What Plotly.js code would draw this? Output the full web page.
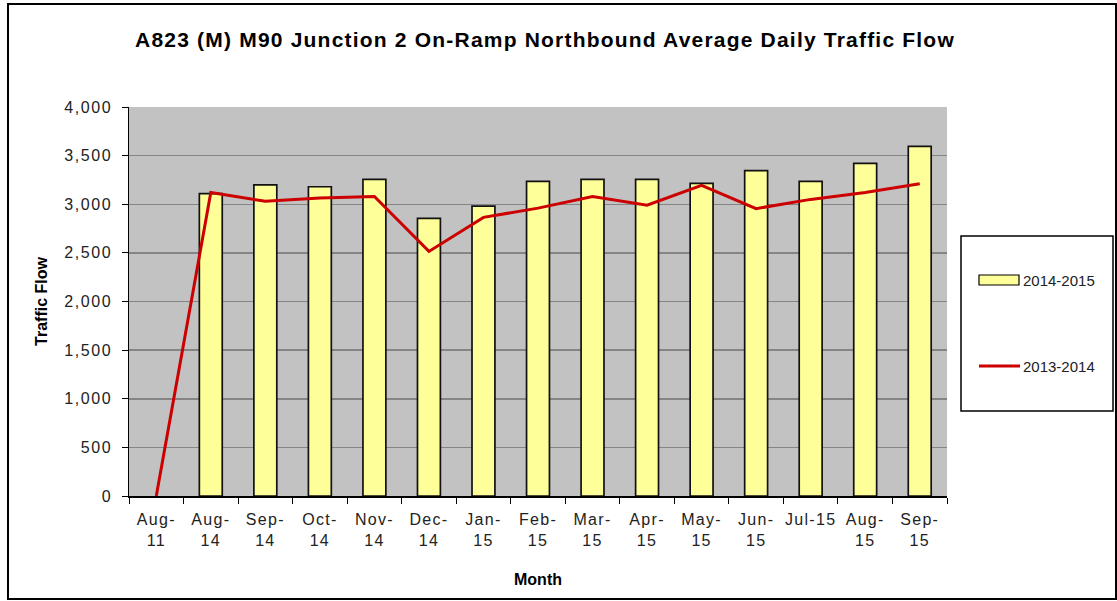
<!DOCTYPE html>
<html>
<head>
<meta charset="utf-8">
<script src="https://cdn.plot.ly/plotly-3.0.1.min.js"></script>
<style>
html,body{margin:0;padding:0;background:#fff;}
#wrap{position:relative;width:1117px;height:601px;}
#chart{width:1117px;height:601px;}
#frame{position:absolute;left:7px;top:3px;width:1106px;height:593px;border:2px solid #000;pointer-events:none;}
#chart .gtitle{letter-spacing:1.2px;}
#chart .xtick text{letter-spacing:1.3px;}
#chart .ytick text{letter-spacing:1.6px;}
</style>
</head>
<body>
<div id="wrap"><div id="chart"></div><div id="frame"></div></div>
<script>
const months = ["Aug-<br>11","Aug-<br>14","Sep-<br>14","Oct-<br>14","Nov-<br>14","Dec-<br>14","Jan-<br>15","Feb-<br>15","Mar-<br>15","Apr-<br>15","May-<br>15","Jun-<br>15","Jul-15","Aug-<br>15","Sep-<br>15"];
const flow2014_2015 = [null,3110,3200,3180,3255,2855,2980,3235,3255,3255,3215,3345,3235,3420,3595];
const flow2013_2014 = [0,3120,3030,3065,3080,2515,2865,2960,3080,2990,3195,2955,3050,3120,3210];
const seriesNames = ["2014-2015","2013-2014"];
const yTicks = [0,500,1000,1500,2000,2500,3000,3500,4000];

const L = 129, R = 947, T = 107, B = 496, W = 1117, H = 601;
const px = x => (x - L) / (R - L);
const py = y => (B - y) / (B - T);

const traces = [
  {type:"bar", x:months, y:flow2014_2015, name:seriesNames[0],
   marker:{color:"#ffff99", line:{color:"#111", width:1.7}}, showlegend:false},
  {type:"scatter", mode:"lines", x:months, y:flow2013_2014, name:seriesNames[1],
   line:{color:"#cc0000", width:3}, showlegend:false}
];

const layout = {
  width:W, height:H,
  margin:{l:L, r:W-R, t:T, b:H-B},
  paper_bgcolor:"#fff", plot_bgcolor:"#c2c2c2",
  bargap:0.58,
  font:{family:"Liberation Sans, Arial, sans-serif", color:"#222", size:15},
  title:{text:"<b>A823 (M) M90 Junction 2 On-Ramp Northbound Average Daily Traffic Flow</b>",
    font:{size:21, color:"#000", family:"Liberation Sans, Arial, sans-serif"},
    x:545/W, xanchor:"center", xref:"container", y:1-40/H, yanchor:"middle", yref:"container"},
  xaxis:{type:"category", tickson:"boundaries", ticks:"outside", ticklen:6, tickcolor:"#000",
    showline:true, linecolor:"#000", linewidth:1.5, showgrid:false, ticklabelstandoff:8,
    tickfont:{size:16, color:"#222"}, automargin:false,
    title:{text:"<b>Month</b>", font:{size:16, color:"#000"}, standoff:26}},
  yaxis:{range:[0,4000], tickvals:yTicks, tickformat:",", ticks:"outside", ticklen:6, tickcolor:"#000",
    showline:true, linecolor:"#000", linewidth:1.5, gridcolor:"#858585", gridwidth:1.5,
    zeroline:false, tickfont:{size:16, color:"#222"}, ticklabelstandoff:6, automargin:false,
    title:{text:"<b>Traffic Flow</b>", font:{size:16, color:"#000"}, standoff:20}},
  shapes:[
    {type:"rect", xref:"paper", yref:"paper", x0:px(961), x1:px(1113), y0:py(411), y1:py(236),
     line:{color:"#000", width:1.5}, fillcolor:"rgba(0,0,0,0)"},
    {type:"rect", xref:"paper", yref:"paper", x0:px(979), x1:px(1019), y0:py(285), y1:py(275),
     line:{color:"#000", width:1.2}, fillcolor:"#ffff99"},
    {type:"line", xref:"paper", yref:"paper", x0:px(979), x1:px(1020), y0:py(366), y1:py(366),
     line:{color:"#cc0000", width:3}}
  ],
  annotations:[
    {xref:"paper", yref:"paper", x:px(1021), y:py(280), xanchor:"left", yanchor:"middle",
     text:seriesNames[0], showarrow:false, font:{size:15, color:"#222"}},
    {xref:"paper", yref:"paper", x:px(1021), y:py(366), xanchor:"left", yanchor:"middle",
     text:seriesNames[1], showarrow:false, font:{size:15, color:"#222"}}
  ]
};

Plotly.newPlot("chart", traces, layout, {displayModeBar:false, staticPlot:true});
</script>
</body>
</html>
